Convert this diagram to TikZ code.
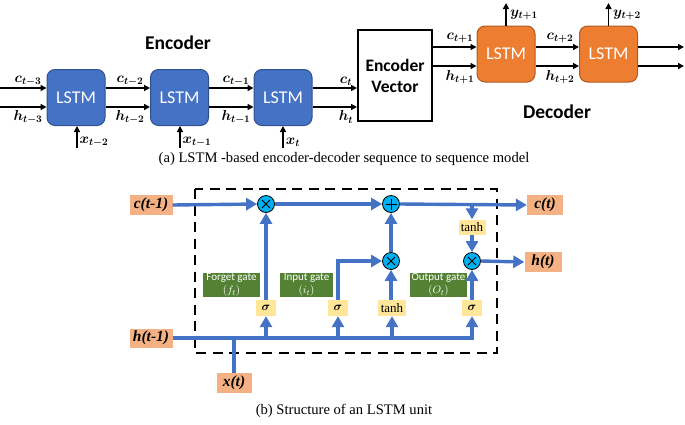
\documentclass[tikz,border=0pt]{standalone}
\usepackage{amsmath,bm}
\usepackage{fontspec}
\setmainfont{Liberation Serif}
\newfontfamily\carlito{Carlito}
\usetikzlibrary{arrows.meta}
\definecolor{encb}{HTML}{4472C4}
\definecolor{encbd}{HTML}{2F528F}
\definecolor{deco}{HTML}{ED7D31}
\definecolor{decbd}{HTML}{AE5A21}
\definecolor{lblue}{HTML}{4472C4}
\definecolor{peach}{HTML}{F4B183}
\definecolor{cyanop}{HTML}{00B0F0}
\definecolor{yel}{HTML}{FFE699}
\definecolor{ggreen}{HTML}{548235}
\begin{document}
\begin{tikzpicture}[x=1pt,y=-1pt,
 lstmE/.style={draw=encbd, fill=encb, line width=1pt, rounded corners=8pt, minimum width=58pt, minimum height=56pt, text=white, font=\carlito\fontsize{18}{20}\selectfont, inner sep=0pt},
 lstmD/.style={lstmE, draw=decbd, fill=deco},
 tarr/.style={line width=1.6pt, -{Triangle[length=6pt,width=6pt]}},
 mlab/.style={font=\boldmath\fontsize{14}{16}\selectfont, inner sep=0pt},
 big/.style={font=\carlito\bfseries\fontsize{19.5}{22}\selectfont, inner sep=0pt},
 capt/.style={font=\fontsize{14.6}{17}\selectfont, inner sep=0pt},
 bl/.style={draw=lblue, line width=3.4pt},
 barr/.style={bl, -{Triangle[length=11pt,width=12pt]}},
 io/.style={fill=peach, font=\bfseries\itshape\fontsize{15.5}{17}\selectfont, inner sep=0pt, minimum height=20pt},
 op/.style={circle, fill=cyanop, draw=black, line width=0.8pt, minimum size=17pt, inner sep=0pt},
 mult/.style={op, path picture={
   \draw[line width=1pt] ([shift={(-4pt,-4pt)}]path picture bounding box.center) -- ([shift={(4pt,4pt)}]path picture bounding box.center);
   \draw[line width=1pt] ([shift={(-4pt,4pt)}]path picture bounding box.center) -- ([shift={(4pt,-4pt)}]path picture bounding box.center);}},
 plus/.style={op, path picture={
   \draw[line width=1pt] ([shift={(-5.5pt,0pt)}]path picture bounding box.center) -- ([shift={(5.5pt,0pt)}]path picture bounding box.center);
   \draw[line width=1pt] ([shift={(0pt,-5.5pt)}]path picture bounding box.center) -- ([shift={(0pt,5.5pt)}]path picture bounding box.center);}},
 act/.style={fill=yel, inner sep=0pt, minimum height=16pt, font=\fontsize{13}{14}\selectfont},
 gatebox/.style={fill=ggreen},
 gatetext/.style={text=white, inner sep=0pt, align=center, font=\carlito\fontsize{11}{12.5}\selectfont},
]
\useasboundingbox (0,0) rectangle (685,424);

% ---------- (a) encoder-decoder ----------
\node[big] (enclab) at (178,43) {Encoder};
\node[big] (declab) at (557,112) {Decoder};

\node[lstmE] (e1) at (76,97.5) {LSTM};
\node[lstmE] (e2) at (179.5,97.5) {LSTM};
\node[lstmE] (e3) at (283,97.5) {LSTM};
\node[draw=black, line width=2pt, minimum width=74pt, minimum height=91pt, align=center, inner sep=0pt,
      font=\carlito\bfseries\fontsize{17.5}{21}\selectfont] (ev) at (395,75.5) {Encoder\\Vector};
\node[lstmD] (d1) at (506,54) {LSTM};
\node[lstmD] (d2) at (608.5,54) {LSTM};

\coordinate (cin) at (0,88);
\coordinate (hin) at (0,107);
\draw[tarr] (cin) -- (e1.west |- cin);
\draw[tarr] (hin) -- (e1.west |- hin);
\draw[tarr] (e1.east |- cin) -- (e2.west |- cin);
\draw[tarr] (e1.east |- hin) -- (e2.west |- hin);
\draw[tarr] (e2.east |- cin) -- (e3.west |- cin);
\draw[tarr] (e2.east |- hin) -- (e3.west |- hin);
\draw[tarr] (e3.east |- cin) -- (ev.west |- cin);
\draw[tarr] (e3.east |- hin) -- (ev.west |- hin);

\node[mlab] (lc3) at (28,81) {$\bm{c_{t-3}}$};
\node[mlab] (lh3) at (28,117) {$\bm{h_{t-3}}$};
\node[mlab] (lc2) at (130,81) {$\bm{c_{t-2}}$};
\node[mlab] (lh2) at (130,117) {$\bm{h_{t-2}}$};
\node[mlab] (lc1) at (236,81) {$\bm{c_{t-1}}$};
\node[mlab] (lh1) at (236,117) {$\bm{h_{t-1}}$};
\node[mlab] (lc0) at (346,81) {$\bm{c_{t}}$};
\node[mlab] (lh0) at (346,117) {$\bm{h_{t}}$};

\coordinate (x1) at (77,148);
\coordinate (x2) at (180,148);
\coordinate (x3) at (283,148);
\draw[tarr] (x1) -- (e1.south -| x1);
\draw[tarr] (x2) -- (e2.south -| x2);
\draw[tarr] (x3) -- (e3.south -| x3);
\node[mlab] (lx1) at (94,142) {$\bm{x_{t-2}}$};
\node[mlab] (lx2) at (197,142) {$\bm{x_{t-1}}$};
\node[mlab] (lx3) at (293,142) {$\bm{x_{t}}$};

\coordinate (cd) at (0,47);
\coordinate (hd) at (0,66);
\draw[tarr] (ev.east |- cd) -- (d1.west |- cd);
\draw[tarr] (ev.east |- hd) -- (d1.west |- hd);
\draw[tarr] (d1.east |- cd) -- (d2.west |- cd);
\draw[tarr] (d1.east |- hd) -- (d2.west |- hd);
\coordinate (co) at (684,47);
\coordinate (ho) at (684,66);
\draw[tarr] (d2.east |- co) -- (co);
\draw[tarr] (d2.east |- ho) -- (ho);
\node[mlab] (lc4) at (460,38) {$\bm{c_{t+1}}$};
\node[mlab] (lh4) at (460,77) {$\bm{h_{t+1}}$};
\node[mlab] (lc5) at (560,38) {$\bm{c_{t+2}}$};
\node[mlab] (lh5) at (560,77) {$\bm{h_{t+2}}$};

\coordinate (y1) at (506,3);
\coordinate (y2) at (608.5,3);
\draw[tarr] (d1.north) -- (y1);
\draw[tarr] (d2.north) -- (y2);
\node[mlab] (ly1) at (524,15) {$\bm{y_{t+1}}$};
\node[mlab] (ly2) at (627,15) {$\bm{y_{t+2}}$};

\node[capt] (capa) at (344,159) {(a) LSTM -based encoder-decoder sequence to sequence model};

% ---------- (b) LSTM unit ----------
\draw[line width=2.4pt, dash pattern=on 10pt off 6.5pt] (195,189) rectangle (497,353);

\node[io, minimum width=43pt] (cI) at (151,205) {c(t-1)};
\node[io, minimum width=43pt, minimum height=19pt] (hI) at (151,338) {h(t-1)};
\node[io, minimum width=35pt] (xI) at (234,383) {x(t)};
\node[io, minimum width=36pt] (cO) at (545,205) {c(t)};
\node[io, minimum width=37pt] (hO) at (543,262) {h(t)};

\node[mult] (m1) at (266,204) {};
\node[plus] (p1) at (391,204) {};
\node[mult] (m2) at (391,261) {};
\node[mult] (m3) at (472,261) {};

\node[act, minimum width=20pt] (sf) at (266,308) {$\bm{\sigma}$};
\node[act, minimum width=20pt] (si) at (338,308) {$\bm{\sigma}$};
\node[act, minimum width=28pt] (t1) at (392,308) {tanh};
\node[act, minimum width=20pt] (so) at (472,308) {$\bm{\sigma}$};
\node[act, minimum width=27pt, minimum height=15pt] (t2) at (472,227) {tanh};

\fill[gatebox] (203,273) rectangle (260,297);
\fill[gatebox] (280,273) rectangle (333,297);
\fill[gatebox] (410,273) rectangle (467,297);
\node[gatetext] (fg) at (231.5,285) {Forget gate\\$(f_t)$};
\node[gatetext] (ig) at (306.5,285) {Input gate\\$(i_t)$};
\node[gatetext] (og) at (438.5,285) {Output gate\\$(O_t)$};

\draw[barr] (cI.east) -- (m1.west);
\draw[barr] (m1.east) -- (p1.west);
\draw[barr] (p1.east) -- (cO.west);
\draw[barr] (hI.east) -| (so.south);
\draw[bl] (xI.north) -- (xI.north |- hI.east);
\draw[barr] (sf.south |- hI.east) -- (sf.south);
\draw[barr] (si.south |- hI.east) -- (si.south);
\draw[barr] (t1.south |- hI.east) -- (t1.south);
\draw[barr] (sf.north) -- (m1.south);
\draw[barr] (si.north) |- (m2.west);
\draw[barr] (t1.north -| m2.south) -- (m2.south);
\draw[barr] (m2.north) -- (p1.south);
\draw[barr] (t2.north |- p1.east) -- (t2.north);
\draw[barr] (t2.south) -- (m3.north);
\draw[barr] (so.north) -- (m3.south);
\draw[barr] (m3.east) -- (hO.west);

\node[capt] (capb) at (344,411) {(b) Structure of an LSTM unit};
\end{tikzpicture}
\end{document}
